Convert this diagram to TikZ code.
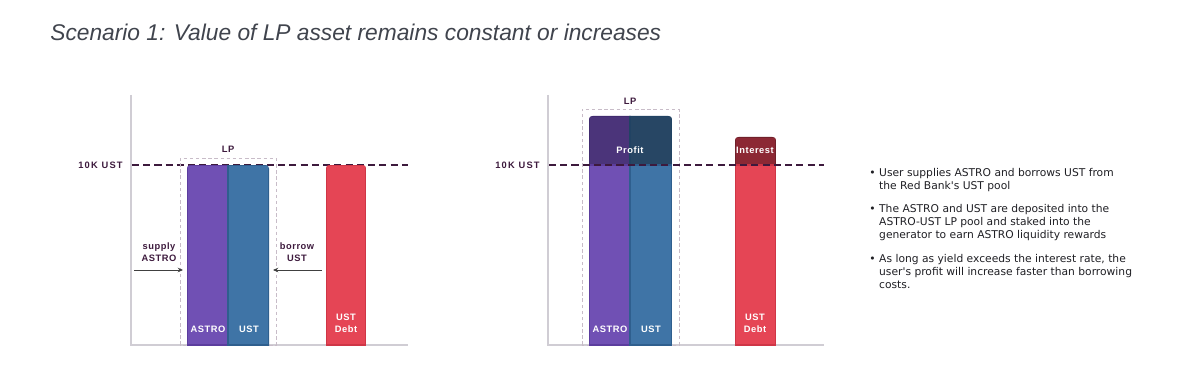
\documentclass[tikz,border=0pt]{standalone}
\usepackage{fontspec}
\usetikzlibrary{arrows.meta,positioning}
\setmainfont{Liberation Sans}
\newfontfamily\tagfont[LetterSpace=6]{Liberation Sans}
\newfontfamily\levelfont[LetterSpace=13]{Liberation Sans}
\newfontfamily\notefont{DejaVu Sans}

\definecolor{astro}{HTML}{7050B4}
\definecolor{astroedge}{HTML}{5C3D9E}
\definecolor{ust}{HTML}{3F74A6}
\definecolor{ustedge}{HTML}{2F5F8E}
\definecolor{debt}{HTML}{E54555}
\definecolor{debtedge}{HTML}{CF3646}
\definecolor{profitA}{HTML}{4B347A}
\definecolor{profitU}{HTML}{274664}
\definecolor{interest}{HTML}{8C2834}
\definecolor{ink}{HTML}{3D1A3D}
\definecolor{axisgray}{HTML}{D0CDD4}
\definecolor{boxgray}{HTML}{C8BCC8}
\definecolor{titlegray}{HTML}{40444D}
\definecolor{notegray}{HTML}{1F1F24}

\begin{document}
\begin{tikzpicture}[x=0.02cm,y=-0.02cm,
    tag/.style={font=\tagfont\bfseries\fontsize{5.3}{6.6}\selectfont,text=ink,align=center,inner sep=0},
    bartag/.style={tag,text=white},
    leveltag/.style={font=\levelfont\bfseries\fontsize{5.3}{6.6}\selectfont,text=ink,inner sep=0},
    axis/.style={draw=axisgray,line width=0.6pt},
    level/.style={draw=ink,line width=1.4pt,dash pattern=on 4pt off 2.4pt},
    lpbox/.style={draw=boxgray,line width=0.5pt,dash pattern=on 2pt off 1.5pt},
    feed/.style={draw=black!75,line width=0.5pt,-{Stealth[length=3pt,width=2.6pt]}},
    note/.style={font=\notefont\fontsize{6.1}{7.4}\selectfont,text=notegray,align=left,inner sep=0}]

    \useasboundingbox (0,0) rectangle (1200,385);

    \node[anchor=base west,inner sep=0,text=titlegray,font=\itshape\fontsize{12.95}{15}\selectfont] (title) at (50,41)
        {Scenario 1: Value of LP asset remains constant or increases};

    % --- left chart: at 10K UST
    \draw[axis] (131,95) -- (131,345) -- (408,345);
    \draw[level] (132,165) -- (408,165);
    \node[leveltag,anchor=east] (levelA) at (123,165) {10K UST};
    \draw[lpbox] (180,345) rectangle (276,158);
    \node[tag] (lpA) at (228,149) {LP};

    \begin{scope}
        \clip[rounded corners=2pt] (187,352) rectangle (269,165);
        \filldraw[fill=astro,draw=astroedge,line width=0.7pt] (187,345) rectangle (228,165);
        \filldraw[fill=ust,draw=ustedge,line width=0.7pt] (228,345) rectangle (269,165);
    \end{scope}
    \begin{scope}
        \clip[rounded corners=2pt] (326,352) rectangle (366,165);
        \filldraw[fill=debt,draw=debtedge,line width=0.7pt] (326,345) rectangle (366,165);
    \end{scope}

    \node[bartag] (astroA) at (208,329) {ASTRO};
    \node[bartag] (ustA) at (249,329) {UST};
    \node[bartag] (debtA) at (346,323) {UST\\Debt};

    \node[tag] (supply) at (159,252) {supply\\ASTRO};
    \node[tag] (borrow) at (297,252) {borrow\\UST};
    \coordinate (supplyFrom) at (134,270);
    \coordinate (supplyTo) at (183,270);
    \coordinate (borrowFrom) at (322,270);
    \coordinate (borrowTo) at (273,270);
    \draw[feed] (supplyFrom) -- (supplyTo);
    \draw[feed] (borrowFrom) -- (borrowTo);

    % --- middle chart: above 10K UST
    \draw[axis] (548,95) -- (548,345) -- (824,345);
    \node[leveltag,anchor=east] (levelB) at (540,165) {10K UST};
    \draw[lpbox] (582,345) rectangle (679,109);
    \node[tag] (lpB) at (630,101) {LP};

    \begin{scope}
        \clip[rounded corners=2pt] (589,352) rectangle (672,116);
        \filldraw[fill=profitA,draw=astroedge!70!black,line width=0.7pt] (589,345) rectangle (630,116);
        \filldraw[fill=profitU,draw=ustedge!70!black,line width=0.7pt] (630,345) rectangle (672,116);
        \filldraw[fill=astro,draw=astroedge,line width=0.7pt] (589,345) rectangle (630,165);
        \filldraw[fill=ust,draw=ustedge,line width=0.7pt] (630,345) rectangle (672,165);
    \end{scope}
    \begin{scope}
        \clip[rounded corners=2pt] (735,352) rectangle (776,137);
        \filldraw[fill=interest,draw=interest!80!black,line width=0.7pt] (735,345) rectangle (776,137);
        \filldraw[fill=debt,draw=debtedge,line width=0.7pt] (735,345) rectangle (776,165);
    \end{scope}
    \draw[level] (549,165) -- (824,165);

    \node[bartag] (profit) at (630,150) {Profit};
    \node[bartag] (interestB) at (755,150) {Interest};
    \node[bartag] (astroB) at (610,329) {ASTRO};
    \node[bartag] (ustB) at (651,329) {UST};
    \node[bartag] (debtB) at (755,323) {UST\\Debt};

    % --- notes
    \node[note,anchor=north west] (item1) at (869,168)
        {\makebox[5.6pt][l]{•}User supplies ASTRO and borrows UST from\\\hspace*{5.6pt}the Red Bank's UST pool};
    \node[note,below=7pt of item1.south west,anchor=north west] (item2)
        {\makebox[5.6pt][l]{•}The ASTRO and UST are deposited into the\\\hspace*{5.6pt}ASTRO-UST LP pool and staked into the\\\hspace*{5.6pt}generator to earn ASTRO liquidity rewards};
    \node[note,below=7pt of item2.south west,anchor=north west] (item3)
        {\makebox[5.6pt][l]{•}As long as yield exceeds the interest rate, the\\\hspace*{5.6pt}user's profit will increase faster than borrowing\\\hspace*{5.6pt}costs.};
\end{tikzpicture}
\end{document}
